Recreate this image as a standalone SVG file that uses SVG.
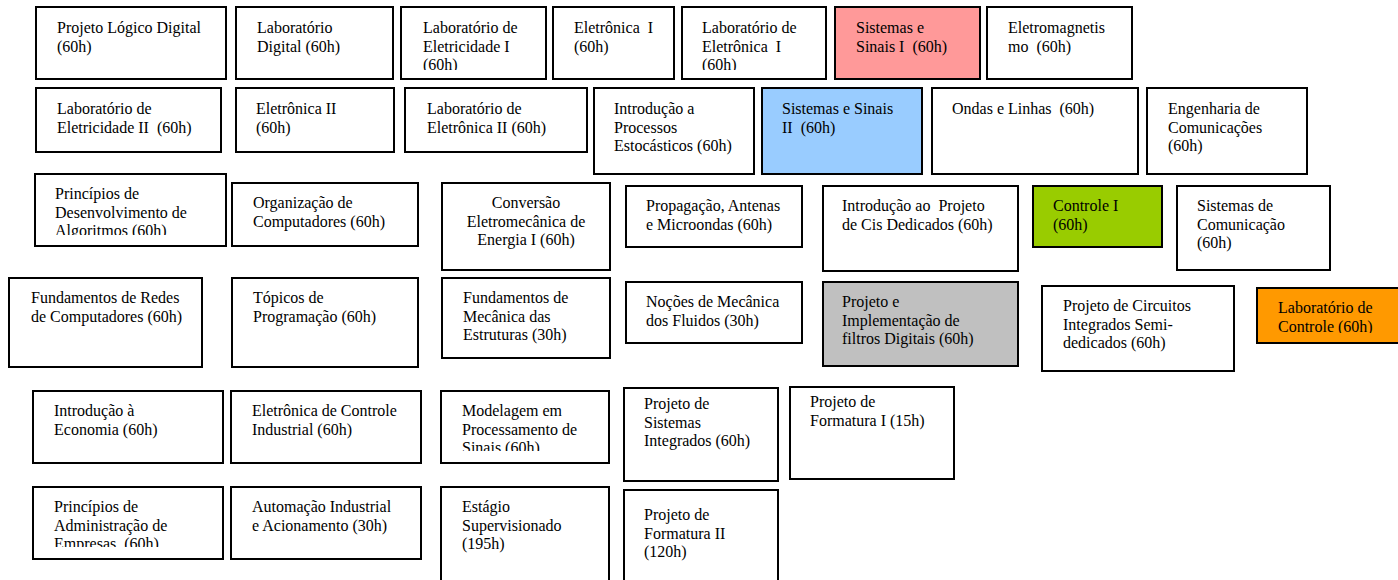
<svg xmlns="http://www.w3.org/2000/svg" width="1398" height="580" viewBox="0 0 1398 580">
  <style>
    .box { fill: #ffffff; stroke: #000000; stroke-width: 2; }
    .pink { fill: #ff9999; }
    .blue { fill: #99ccff; }
    .green { fill: #99cc00; }
    .gray { fill: #c0c0c0; }
    .orange { fill: #ff9900; }
    text { font-family: "Liberation Serif", "Times New Roman", serif; font-size: 16px; fill: #000000; white-space: pre; }
    .mid { text-anchor: middle; }
  </style>
  <defs>
    <!-- text areas that cut off overflowing lines -->
    <clipPath id="clip-n3"><rect x="401" y="7" width="145" height="63"/></clipPath>
    <clipPath id="clip-n5"><rect x="682" y="7" width="144" height="63"/></clipPath>
    <clipPath id="clip-n15"><rect x="35" y="174" width="191" height="61"/></clipPath>
    <clipPath id="clip-n28"><rect x="1257" y="287" width="141" height="46"/></clipPath>
    <clipPath id="clip-n31"><rect x="441" y="391" width="168" height="60"/></clipPath>
    <clipPath id="clip-n34"><rect x="33" y="487" width="190" height="60"/></clipPath>
  </defs>

  <rect width="1398" height="580" fill="#ffffff"/>

  <!-- no connectors between the course boxes -->
  <g id="connectors"/>

  <!-- row 1 -->
  <g id="n1">
    <rect class="box" x="36" y="7" width="190" height="72"/>
    <text x="57" y="33">Projeto Lógico Digital<tspan x="57" dy="18.5">(60h)</tspan></text>
  </g>
  <g id="n2">
    <rect class="box" x="236" y="7" width="157" height="72"/>
    <text x="257" y="33">Laboratório<tspan x="257" dy="18.5">Digital (60h)</tspan></text>
  </g>
  <g id="n3">
    <rect class="box" x="401" y="7" width="145" height="72"/>
    <text x="423" y="33" clip-path="url(#clip-n3)">Laboratório de<tspan x="423" dy="18.5">Eletricidade I</tspan><tspan x="423" dy="18.5">(60h)</tspan></text>
  </g>
  <g id="n4">
    <rect class="box" x="553" y="7" width="121" height="72"/>
    <text x="574" y="33">Eletrônica  I<tspan x="574" dy="18.5">(60h)</tspan></text>
  </g>
  <g id="n5">
    <rect class="box" x="682" y="7" width="144" height="72"/>
    <text x="702" y="33" clip-path="url(#clip-n5)">Laboratório de<tspan x="702" dy="18.5">Eletrônica  I</tspan><tspan x="702" dy="18.5">(60h)</tspan></text>
  </g>
  <g id="n6">
    <rect class="box pink" x="835" y="7" width="145" height="72"/>
    <text x="856" y="33">Sistemas e<tspan x="856" dy="18.5">Sinais I  (60h)</tspan></text>
  </g>
  <g id="n7">
    <rect class="box" x="987" y="7" width="145" height="72"/>
    <text x="1008" y="33">Eletromagnetis<tspan x="1008" dy="18.5">mo  (60h)</tspan></text>
  </g>

  <!-- row 2 -->
  <g id="n8">
    <rect class="box" x="36" y="88" width="185" height="64"/>
    <text x="57" y="114">Laboratório de<tspan x="57" dy="18.5">Eletricidade II  (60h)</tspan></text>
  </g>
  <g id="n9">
    <rect class="box" x="236" y="88" width="158" height="64"/>
    <text x="256" y="114">Eletrônica II<tspan x="256" dy="18.5">(60h)</tspan></text>
  </g>
  <g id="n10">
    <rect class="box" x="405" y="88" width="182" height="64"/>
    <text x="427" y="114">Laboratório de<tspan x="427" dy="18.5">Eletrônica II (60h)</tspan></text>
  </g>
  <g id="n11">
    <rect class="box" x="594" y="88" width="160" height="86"/>
    <text x="614" y="114">Introdução a<tspan x="614" dy="18.5">Processos</tspan><tspan x="614" dy="18.5">Estocásticos (60h)</tspan></text>
  </g>
  <g id="n12">
    <rect class="box blue" x="762" y="88" width="160" height="86"/>
    <text x="782" y="114">Sistemas e Sinais<tspan x="782" dy="18.5">II  (60h)</tspan></text>
  </g>
  <g id="n13">
    <rect class="box" x="932" y="88" width="206" height="86"/>
    <text x="952" y="114">Ondas e Linhas  (60h)</text>
  </g>
  <g id="n14">
    <rect class="box" x="1147" y="88" width="160" height="86"/>
    <text x="1168" y="114">Engenharia de<tspan x="1168" dy="18.5">Comunicações</tspan><tspan x="1168" dy="18.5">(60h)</tspan></text>
  </g>

  <!-- row 3 -->
  <g id="n15">
    <rect class="box" x="35" y="174" width="191" height="72"/>
    <text x="55" y="199" clip-path="url(#clip-n15)">Princípios de<tspan x="55" dy="18.5">Desenvolvimento de</tspan><tspan x="55" dy="18.5">Algoritmos (60h)</tspan></text>
  </g>
  <g id="n16">
    <rect class="box" x="232" y="183" width="186" height="63"/>
    <text x="253" y="208">Organização de<tspan x="253" dy="18.5">Computadores (60h)</tspan></text>
  </g>
  <g id="n17">
    <rect class="box" x="442" y="183" width="168" height="87"/>
    <text class="mid" x="526" y="208">Conversão<tspan x="526" dy="18.5">Eletromecânica de</tspan><tspan x="526" dy="18.5">Energia I (60h)</tspan></text>
  </g>
  <g id="n18">
    <rect class="box" x="626" y="186" width="176" height="61"/>
    <text x="646" y="211">Propagação, Antenas<tspan x="646" dy="18.5">e Microondas (60h)</tspan></text>
  </g>
  <g id="n19">
    <rect class="box" x="823" y="186" width="195" height="85"/>
    <text x="842" y="211">Introdução ao  Projeto<tspan x="842" dy="18.5">de Cis Dedicados (60h)</tspan></text>
  </g>
  <g id="n20">
    <rect class="box green" x="1033" y="186" width="129" height="61"/>
    <text x="1053" y="211">Controle I<tspan x="1053" dy="18.5">(60h)</tspan></text>
  </g>
  <g id="n21">
    <rect class="box" x="1177" y="186" width="153" height="84"/>
    <text x="1197" y="211">Sistemas de<tspan x="1197" dy="18.5">Comunicação</tspan><tspan x="1197" dy="18.5">(60h)</tspan></text>
  </g>

  <!-- row 4 -->
  <g id="n22">
    <rect class="box" x="9" y="278" width="193" height="89"/>
    <text x="31" y="303">Fundamentos de Redes<tspan x="31" dy="18.5">de Computadores (60h)</tspan></text>
  </g>
  <g id="n23">
    <rect class="box" x="232" y="278" width="186" height="89"/>
    <text x="253" y="303">Tópicos de<tspan x="253" dy="18.5">Programação (60h)</tspan></text>
  </g>
  <g id="n24">
    <rect class="box" x="442" y="278" width="168" height="80"/>
    <text x="463" y="303">Fundamentos de<tspan x="463" dy="18.5">Mecânica das</tspan><tspan x="463" dy="18.5">Estruturas (30h)</tspan></text>
  </g>
  <g id="n25">
    <rect class="box" x="626" y="282" width="176" height="61"/>
    <text x="646" y="307">Noções de Mecânica<tspan x="646" dy="18.5">dos Fluidos (30h)</tspan></text>
  </g>
  <g id="n26">
    <rect class="box gray" x="823" y="282" width="195" height="84"/>
    <text x="842" y="307">Projeto e<tspan x="842" dy="18.5">Implementação de</tspan><tspan x="842" dy="18.5">filtros Digitais (60h)</tspan></text>
  </g>
  <g id="n27">
    <rect class="box" x="1042" y="286" width="192" height="85"/>
    <text x="1063" y="311">Projeto de Circuitos<tspan x="1063" dy="18.5">Integrados Semi-</tspan><tspan x="1063" dy="18.5">dedicados (60h)</tspan></text>
  </g>
  <g id="n28">
    <rect class="box orange" x="1257" y="288" width="150" height="55"/>
    <text x="1278" y="313" clip-path="url(#clip-n28)">Laboratório de<tspan x="1278" dy="18.5">Controle (60h)</tspan></text>
  </g>

  <!-- row 5 -->
  <g id="n29">
    <rect class="box" x="33" y="391" width="190" height="72"/>
    <text x="54" y="416">Introdução à<tspan x="54" dy="18.5">Economia (60h)</tspan></text>
  </g>
  <g id="n30">
    <rect class="box" x="231" y="391" width="190" height="72"/>
    <text x="252" y="416">Eletrônica de Controle<tspan x="252" dy="18.5">Industrial (60h)</tspan></text>
  </g>
  <g id="n31">
    <rect class="box" x="441" y="391" width="168" height="72"/>
    <text x="462" y="416" clip-path="url(#clip-n31)">Modelagem em<tspan x="462" dy="18.5">Processamento de</tspan><tspan x="462" dy="18.5">Sinais (60h)</tspan></text>
  </g>
  <g id="n32">
    <rect class="box" x="624" y="388" width="154" height="93"/>
    <text x="644" y="409">Projeto de<tspan x="644" dy="18.5">Sistemas</tspan><tspan x="644" dy="18.5">Integrados (60h)</tspan></text>
  </g>
  <g id="n33">
    <rect class="box" x="790" y="387" width="164" height="92"/>
    <text x="810" y="407">Projeto de<tspan x="810" dy="18.5">Formatura I (15h)</tspan></text>
  </g>

  <!-- row 6 -->
  <g id="n34">
    <rect class="box" x="33" y="487" width="190" height="72"/>
    <text x="54" y="512" clip-path="url(#clip-n34)">Princípios de<tspan x="54" dy="18.5">Administração de</tspan><tspan x="54" dy="18.5">Empresas  (60h)</tspan></text>
  </g>
  <g id="n35">
    <rect class="box" x="231" y="487" width="190" height="72"/>
    <text x="252" y="512">Automação Industrial<tspan x="252" dy="18.5">e Acionamento (30h)</tspan></text>
  </g>
  <g id="n36">
    <rect class="box" x="441" y="487" width="168" height="110"/>
    <text x="462" y="512">Estágio<tspan x="462" dy="18.5">Supervisionado</tspan><tspan x="462" dy="18.5">(195h)</tspan></text>
  </g>
  <g id="n37">
    <rect class="box" x="624" y="490" width="154" height="110"/>
    <text x="644" y="520">Projeto de<tspan x="644" dy="18.5">Formatura II</tspan><tspan x="644" dy="18.5">(120h)</tspan></text>
  </g>
</svg>
